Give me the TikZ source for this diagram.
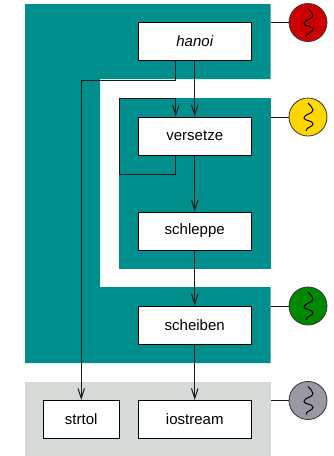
\documentclass[tikz,border=0pt]{standalone}
\usepackage{fontspec}
\setmainfont{Liberation Sans}
\usetikzlibrary{arrows.meta}
\definecolor{regionteal}{RGB}{0,143,140}
\definecolor{regiongrey}{RGB}{214,218,214}
\definecolor{dotred}{RGB}{204,0,0}
\definecolor{dotgold}{RGB}{255,215,0}
\definecolor{dotgreen}{RGB}{0,136,0}
\definecolor{dotgrey}{RGB}{153,153,163}
\tikzset{
  modulebox/.style={draw=black,fill=white,line width=1pt,minimum height=38pt,minimum width=113.5pt,inner sep=0pt,font=\fontsize{15}{18}\selectfont},
  dotnode/.style={draw=black!80,line width=.8pt,circle,minimum size=38pt,inner sep=0pt},
  link/.style={line width=1pt,black!90}
}
\begin{document}
\begin{tikzpicture}[x=1pt,y=-1pt,>={Straight Barb[length=10pt,width=6.5pt,line width=1pt]}]
\useasboundingbox (0,0) rectangle (334,456);
\fill[regionteal](25,4)--(270.5,4)--(270.5,79)--(100,79)--(100,287)--(270.5,287)--(270.5,363)--(25,363)--cycle;
\fill[regionteal](119,98)rectangle(271,269);
\fill[regiongrey](25,382)rectangle(271,456);
\node[modulebox] (hanoi) at (194.75,41.5){\itshape hanoi};
\node[modulebox] (versetze) at (194.75,136){versetze};
\node[modulebox] (schleppe) at (194.75,231){schleppe};
\node[modulebox] (scheiben) at (194.75,325){scheiben};
\node[modulebox] (iostream) at (194.75,419.5){iostream};
\node[modulebox,minimum width=75.5pt] (strtol) at (81.25,419.5){strtol};
\draw[->,link](hanoi)--(versetze);
\draw[->,link](versetze)--(schleppe);
\draw[->,link](schleppe)--(scheiben);
\draw[->,link](scheiben)--(iostream);
\draw[->,link]([xshift=-19pt]hanoi.south)--++(0,19)-|(strtol.north);
\draw[->,link]([xshift=-19pt]versetze.south)--++(0,19)-|(119,98)-|([xshift=-19pt]versetze.north);
\foreach \name/\y/\col in {hanoi/22.5/dotred,versetze/117/dotgold,scheiben/306/dotgreen,iostream/400.5/dotgrey}
{
    \coordinate (\name edge) at (270.5,\y);
    \node[dotnode,fill=\col] (\name dot) at (308,\y){};
    \draw[link](\name edge)--(\name dot);
    \draw[line width=1pt,black,xshift=308pt,yshift=-\y pt](0,-14) .. controls (2,-11) and (5,-10) .. (5,-7) .. controls (5,-3) and (-4,-3) .. (-4,1) .. controls (-4,4) and (5,3) .. (5,7) .. controls (5,10) and (-2,10) .. (-2,14);
}
\end{tikzpicture}
\end{document}
